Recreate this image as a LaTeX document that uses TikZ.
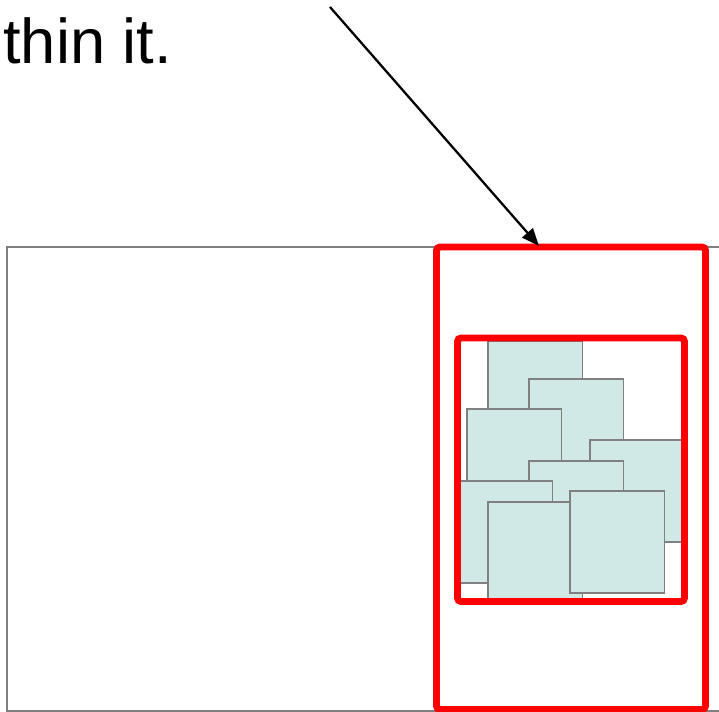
\documentclass[tikz,border=0pt]{standalone}
\usepackage{fontspec}
\setmainfont{Liberation Sans}
\usetikzlibrary{arrows.meta}
\definecolor{tilefill}{RGB}{208,232,230}
\definecolor{framegray}{RGB}{128,128,128}

\begin{document}
\begin{tikzpicture}[
  x=0.02cm, y=-0.02cm,
  caption/.style={inner sep=0pt, anchor=base west,
                  font=\fontsize{36}{43}\selectfont},
  region/.style={draw=framegray, line width=0.9pt},
  tile/.style={draw=framegray, line width=1pt, fill=tilefill},
  redbox/.style={draw=red, line width=3.9pt, rounded corners=2pt},
  arr/.style={-{Triangle[length=10pt, width=8pt]}, line width=1.3pt, black},
]
  \useasboundingbox (0,0) rectangle (719,712);
  \clip (0,0) rectangle (719,712);

  %% Caption (upper line cut off by the frame)
  \node[caption] (cap) at (3,64) {thin it.};

  %% Grey region running off to the right
  \draw[region] (7,247) rectangle (740,711);

  %% Overlapping tiles, back to front
  \foreach \tx/\ty in {488/341, 529/379, 467/409, 590/440,
                       529/461, 458/481, 488/502, 570/491}
    \draw[tile] (\tx,\ty) rectangle ++(94.5,101.7);

  %% Inner and outer red frames
  \draw[redbox] (457.5,338) rectangle (684.5,601.5);
  \draw[redbox] (436.5,247) rectangle (705.5,709.5);

  %% Pointer from the text above
  \coordinate (from) at (330,7);
  \coordinate (hit) at (539,246);
  \draw[arr] (from) -- (hit);
\end{tikzpicture}
\end{document}
